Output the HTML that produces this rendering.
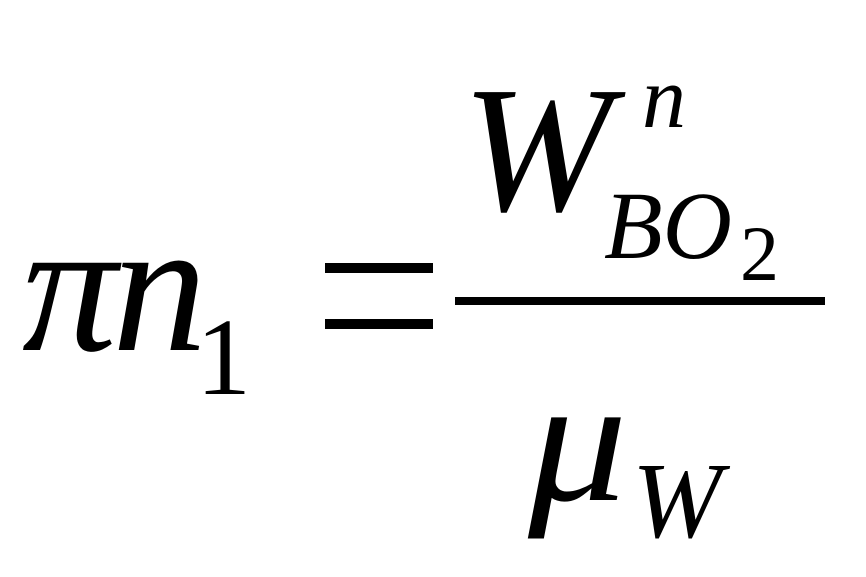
<!DOCTYPE html>
<html><head><meta charset="utf-8"><style>
html,body{margin:0;padding:0;background:#fff;}
svg{display:block;}
text{font-family:"Liberation Serif","DejaVu Serif",serif;fill:#000;}
</style></head><body>
<svg width="866" height="577" viewBox="0 0 866 577" xmlns="http://www.w3.org/2000/svg">
<text x="22" y="350" font-size="190" font-style="italic">π</text>
<text x="112" y="350" font-size="190" font-style="italic">n</text>
<text x="196" y="394" font-size="110">1</text>
<rect x="325" y="263" width="108" height="10"/>
<rect x="325" y="319" width="108" height="10"/>
<rect x="455" y="297" width="370" height="8"/>
<text x="462" y="210" font-size="180" font-style="italic">W</text>
<text x="642" y="127" font-size="88" font-style="italic">n</text>
<text x="604" y="258" font-size="96" font-style="italic">BO</text>
<text x="740" y="280" font-size="78">2</text>
<text x="528" y="500" font-size="180" font-style="italic" transform="translate(528 0) scale(1.1 1) translate(-528 0)">μ</text>
<text x="632" y="537" font-size="108" font-style="italic">W</text>
</svg>
</body></html>
